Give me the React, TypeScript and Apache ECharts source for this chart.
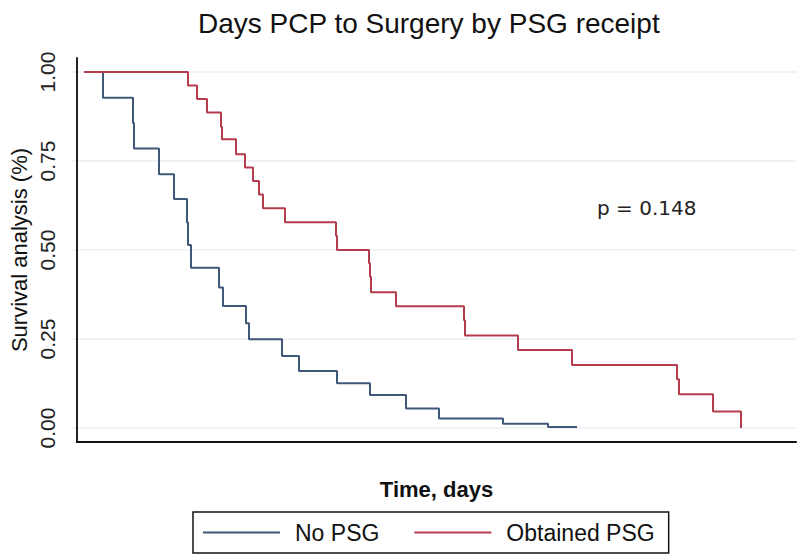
import React, { useEffect, useRef } from "react";
import * as echarts from "echarts";

const TITLE = "Days PCP to Surgery by PSG receipt";
const X_NAME = "Time, days";
const Y_NAME = "Survival analysis (%)";
const P_TEXT = "p = 0.148";
const SERIES_NAMES = ["No PSG", "Obtained PSG"];
const SERIES_COLORS = ["#3f5779", "#b43c4c"];

// Kaplan-Meier steps (time in days from start, survival after each event)
const noPsgTimes = [0, 19, 49, 50, 75, 90, 103, 104, 107, 135, 139, 162, 165, 198, 215, 253, 286, 322, 355, 419, 464, 493];
const noPsgSurv = [1, 0.928, 0.857, 0.785, 0.713, 0.643, 0.577, 0.514, 0.45, 0.395, 0.343, 0.294, 0.249, 0.202, 0.16, 0.126, 0.093, 0.055, 0.027, 0.012, 0.003, 0.003];

const psgTimes = [0, 104, 113, 123, 137, 138, 152, 161, 169, 175, 179, 201, 252, 253, 285, 286, 287, 312, 380, 381, 434, 488, 593, 595, 629, 657];
const psgSurv = [1, 0.962, 0.924, 0.886, 0.846, 0.811, 0.769, 0.732, 0.694, 0.656, 0.617, 0.578, 0.54, 0.5, 0.463, 0.425, 0.381, 0.342, 0.303, 0.26, 0.219, 0.177, 0.137, 0.095, 0.046, 0];

const X_MIN = -12;
const X_MAX = 712;

const FONT = "'Liberation Sans', Arial, Helvetica, sans-serif";

export default function App() {
  const ref = useRef<HTMLDivElement>(null);
  useEffect(() => {
    if (!ref.current) return;
    const chart = echarts.init(ref.current, null, { renderer: "svg" });
    const pair = (t: number[], s: number[]) => t.map((x, i) => [x, s[i]]);
    chart.setOption({
      animation: false,
      backgroundColor: "#ffffff",
      title: {
        text: TITLE,
        left: 193,
        top: 4,
        textStyle: { fontSize: 28, fontWeight: "normal", color: "#111", fontFamily: FONT },
      },
      legend: {
        data: SERIES_NAMES,
        left: 193,
        top: 512,
        icon: "rect",
        itemWidth: 77,
        itemHeight: 2,
        itemGap: 35,
        padding: [9, 14, 9, 10],
        borderColor: "#111",
        borderWidth: 1.5,
        textStyle: { fontSize: 23, color: "#111", fontFamily: FONT, padding: [0, 0, 0, 10] },
      },
      grid: [
        { left: 72, right: 4, top: 58, bottom: 118 },
        { left: 72, right: 4, top: 72, bottom: 132 },
      ],
      xAxis: [
        {
          gridIndex: 0,
          type: "value",
          min: X_MIN,
          max: X_MAX,
          axisLine: { show: true, onZero: false, lineStyle: { color: "#111", width: 2 } },
          axisTick: { show: false },
          axisLabel: { show: false },
          splitLine: { show: false },
          name: X_NAME,
          nameLocation: "middle",
          nameGap: 36,
          nameTextStyle: { fontSize: 22, fontWeight: "bold", color: "#111", fontFamily: FONT },
        },
        { gridIndex: 1, type: "value", min: X_MIN, max: X_MAX, show: false },
      ],
      yAxis: [
        {
          gridIndex: 0,
          type: "value",
          min: 0,
          max: 1,
          axisLine: { show: true, onZero: false, lineStyle: { color: "#222", width: 2 } },
          axisTick: { show: false },
          axisLabel: { show: false },
          splitLine: { show: false },
          name: Y_NAME,
          nameLocation: "middle",
          nameRotate: 90,
          nameGap: 47,
          nameTextStyle: { fontSize: 22, color: "#111", fontFamily: FONT },
        },
        {
          gridIndex: 1,
          type: "value",
          min: 0,
          max: 1,
          interval: 0.25,
          axisLine: { show: false, onZero: false },
          axisTick: { show: false },
          axisLabel: {
            rotate: 90,
            margin: 14,
            fontSize: 21,
            color: "#222",
            fontFamily: FONT,
            formatter: (v: number) => v.toFixed(2),
          },
          splitLine: { show: true, lineStyle: { color: "#eceef2", width: 1.5 } },
        },
      ],
      graphic: [
        {
          type: "text",
          left: 597,
          top: 198,
          style: { text: P_TEXT, fontSize: 20, fill: "#222", fontFamily: "'DejaVu Sans', sans-serif" },
        },
      ],
      series: [
        {
          name: SERIES_NAMES[0],
          type: "line",
          step: "end",
          xAxisIndex: 1,
          yAxisIndex: 1,
          data: pair(noPsgTimes, noPsgSurv),
          showSymbol: false,
          color: SERIES_COLORS[0],
          lineStyle: { width: 2, color: SERIES_COLORS[0] },
        },
        {
          name: SERIES_NAMES[1],
          type: "line",
          step: "end",
          xAxisIndex: 1,
          yAxisIndex: 1,
          data: pair(psgTimes, psgSurv),
          showSymbol: false,
          color: SERIES_COLORS[1],
          lineStyle: { width: 2, color: SERIES_COLORS[1] },
        },
      ],
    });
    return () => chart.dispose();
  }, []);
  return <div ref={ref} style={{ width: 800, height: 560, position: "absolute", left: 0, top: 0 }} />;
}
